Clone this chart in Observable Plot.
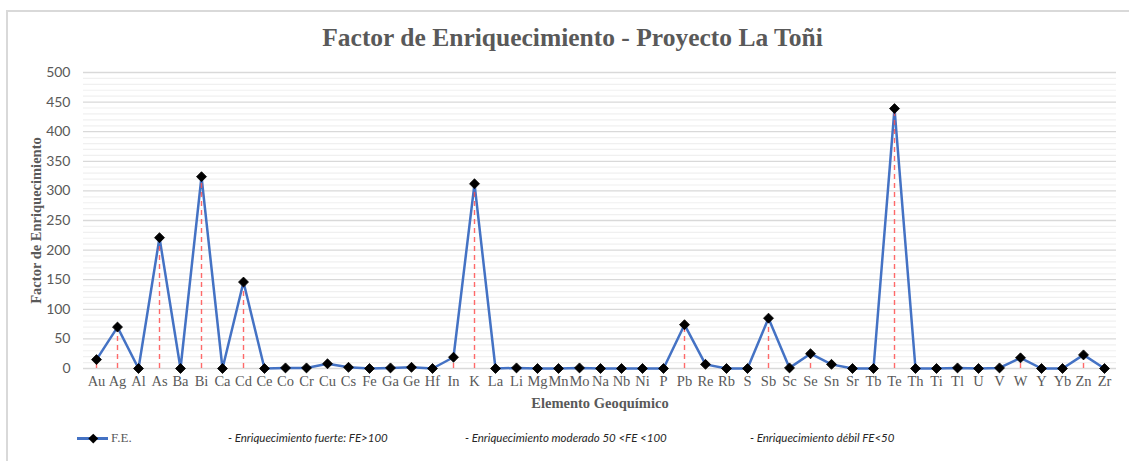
<!DOCTYPE html>
<html>
<head>
<meta charset="utf-8">
<script src="https://cdn.jsdelivr.net/npm/d3@7"></script>
<script src="https://cdn.jsdelivr.net/npm/@observablehq/plot@0.6"></script>
<style>
  html, body { margin: 0; padding: 0; background: #fff; }
  #wrap { position: relative; width: 1129px; height: 461px; overflow: hidden; }
  #frame { position: absolute; left: 6px; top: 10px; width: 1300px; height: 600px; border: 2px solid #d9d9d9; box-sizing: border-box; }
  #title { position: absolute; top: 22px; left: 8px; width: 1129px; text-align: center; font-family: "Liberation Serif", serif; font-weight: bold; font-size: 25.5px; color: #595959; line-height: 32px; }
  #chart { position: absolute; top: 56px; left: 0; }
  .leg { position: absolute; top: 430px; font-size: 11.5px; line-height: 16px; white-space: nowrap; }
  .it { font-family: "Lato", "Open Sans", sans-serif; font-style: italic; color: #262626; }
  #sym { position: absolute; left: 77px; top: 437px; width: 31px; height: 2.5px; background: #4472c4; }
  #dia { position: absolute; left: 89.5px; top: 434.5px; width: 6.5px; height: 6.5px; background: #000; transform: rotate(45deg); }
  #fe { left: 111px; font-family: "Liberation Serif", serif; color: #595959; font-size: 13px; }
</style>
</head>
<body>
<div id="wrap">
  <div id="frame"></div>
  <div id="title">Factor de Enriquecimiento - Proyecto La Toñi</div>
  <div id="chart"></div>
  <div id="sym"></div><div id="dia"></div>
  <div class="leg" id="fe">F.E.</div>
  <div class="leg it" style="left:228px">- Enriquecimiento fuerte: FE&gt;100</div>
  <div class="leg it" style="left:465px">- Enriquecimiento moderado 50 &lt;FE &lt;100</div>
  <div class="leg it" style="left:750px">- Enriquecimiento débil FE&lt;50</div>
</div>
<script>
const elements = ["Au","Ag","Al","As","Ba","Bi","Ca","Cd","Ce","Co","Cr","Cu","Cs","Fe","Ga","Ge","Hf","In","K","La","Li","Mg","Mn","Mo","Na","Nb","Ni","P","Pb","Re","Rb","S","Sb","Sc","Se","Sn","Sr","Tb","Te","Th","Ti","Tl","U","V","W","Y","Yb","Zn","Zr"];
const feValues = [15,70,0,221,0,324,0,146,0,1,1,8,2,0,1,2,0,19,312,0,1,0,0,1,0,0,0,0,74,7,0,0,85,1,25,7,0,0,439,0,0,1,0,1,18,0,0,23,0];
const yTicks = [0,50,100,150,200,250,300,350,400,450,500];
const minorTicks = d3.range(0, 501, 10).filter(v => v % 50 !== 0);

const data = elements.map((e, i) => ({el: e, fe: feValues[i]}));

const chart = Plot.plot({
  width: 1129,
  height: 370,
  marginLeft: 83,
  marginRight: 13,
  marginTop: 16,
  marginBottom: 58,
  style: {background: "transparent", overflow: "visible"},
  x: {type: "point", domain: elements, padding: 0.5},
  y: {domain: [0, 500]},
  marks: [
    Plot.ruleY(minorTicks, {stroke: "#f0f0f0", strokeWidth: 1.2}),
    Plot.ruleY(yTicks, {stroke: "#d9d9d9", strokeWidth: 1.3}),
    Plot.axisY(yTicks, {tickSize: 0, tickPadding: 13, fontSize: 14, fontFamily: "Lato, 'Open Sans', sans-serif", color: "#595959", label: null}),
    Plot.axisX({tickSize: 0, tickPadding: 7, fontSize: 14.5, fontFamily: "'Liberation Serif', serif", color: "#595959", label: null}),
    Plot.line(data, {x: "el", y: "fe", stroke: "#4472c4", strokeWidth: 2.5, strokeLinejoin: "round"}),
    Plot.ruleX(data.filter(d => d.fe > 0), {x: "el", y1: 0, y2: "fe", stroke: "#ff5050", strokeOpacity: 0.85, strokeWidth: 1.4, strokeDasharray: "5,4"}),
    Plot.dot(data, {x: "el", y: "fe", symbol: "diamond2", r: 4.5, fill: "#000", stroke: "#000", strokeWidth: 0.8}),
    Plot.text(["Factor de Enriquecimiento"], {frameAnchor: "left", textAnchor: "middle", dx: -47, rotate: -90, fontSize: 14.5, fontWeight: "bold", fontFamily: "'Liberation Serif', serif", fill: "#595959"}),
    Plot.text(["Elemento Geoquímico"], {frameAnchor: "bottom", dy: 39, fontSize: 14.5, fontWeight: "bold", fontFamily: "'Liberation Serif', serif", fill: "#595959"})
  ]
});
document.getElementById("chart").appendChild(chart);
</script>
</body>
</html>
